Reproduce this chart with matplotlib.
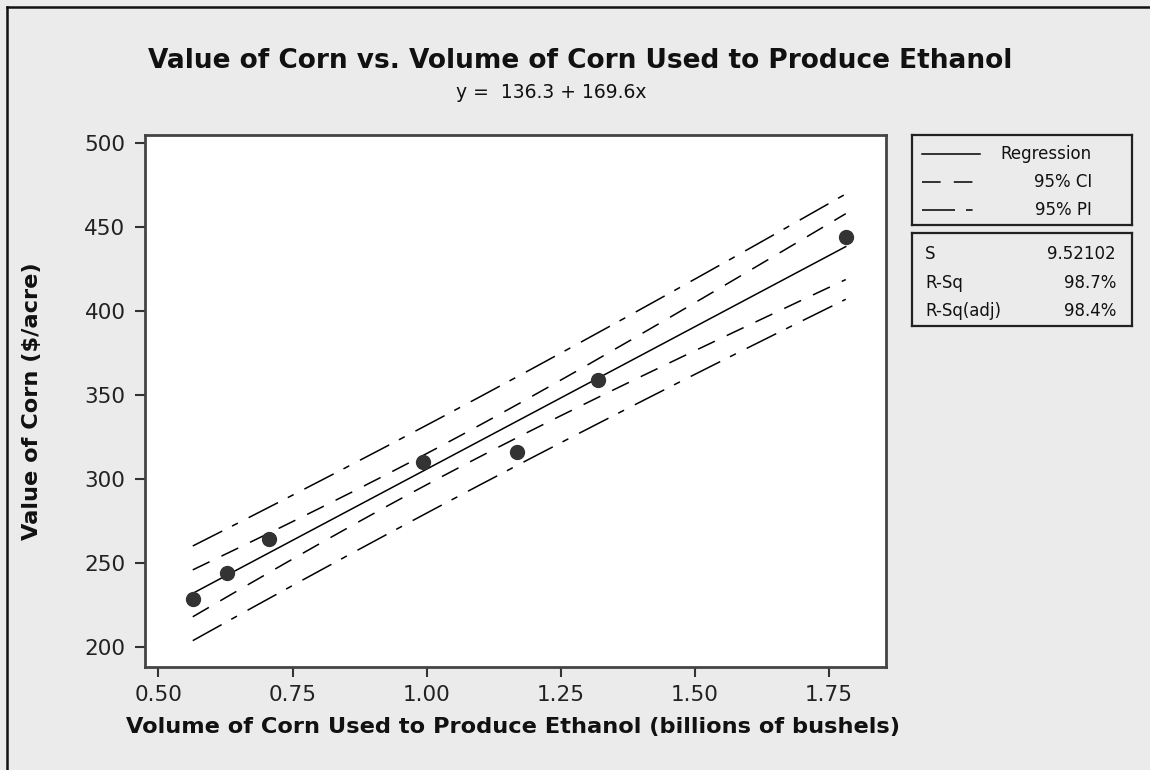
import matplotlib
matplotlib.use("Agg")
import matplotlib.pyplot as plt
from matplotlib.lines import Line2D
import numpy as np

# data
volume = [0.564, 0.627, 0.706, 0.993, 1.168, 1.320, 1.781]   # billions of bushels
value = [228.4, 243.9, 264.3, 310.3, 316.3, 359.0, 443.9]     # $/acre

# fit summary printed on the chart
b0, b1 = 136.3, 169.6
s_fit = 9.52102
r_sq = "98.7%"
r_sq_adj = "98.4%"
t_crit = 2.5706  # t(0.975, df=5)

xticks = [0.50, 0.75, 1.00, 1.25, 1.50, 1.75]
yticks = [200, 250, 300, 350, 400, 450, 500]

BG = "#ebebeb"
DARK = "#333333"
W, H = 1150, 770

plt.rcParams["font.family"] = "DejaVu Sans"

fig = plt.figure(figsize=(W / 100, H / 100), dpi=100, facecolor=BG)


def px_rect(x0, y0, x1, y1):
    # pixel box (top-left origin) -> figure fraction rect
    return [x0 / W, 1 - y1 / H, (x1 - x0) / W, (y1 - y0) / H]


ax = fig.add_axes(px_rect(145, 135, 886, 667))
ax.set_facecolor("white")

# regression line with confidence / prediction bands
x = np.array(volume)
n = len(x)
xbar = x.mean()
sxx = ((x - xbar) ** 2).sum()
xs = np.linspace(x.min(), x.max(), 200)
fit = b0 + b1 * xs
se_mean = s_fit * np.sqrt(1 / n + (xs - xbar) ** 2 / sxx)
se_pred = s_fit * np.sqrt(1 + 1 / n + (xs - xbar) ** 2 / sxx)

ci_dash = (12.2, 8.6)
pi_dash = (21.6, 7.2, 4.3, 7.9)
ax.plot(xs, fit, color="black", lw=1.1)
ax.plot(xs, fit + t_crit * se_mean, color="black", lw=1.1, dashes=ci_dash)
ax.plot(xs, fit - t_crit * se_mean, color="black", lw=1.1, dashes=ci_dash)
ax.plot(xs, fit + t_crit * se_pred, color="black", lw=1.1, dashes=pi_dash)
ax.plot(xs, fit - t_crit * se_pred, color="black", lw=1.1, dashes=pi_dash)

ax.plot(volume, value, "o", color=DARK, markersize=10, zorder=5)

ax.set_xlim(0.475, 1.856)
ax.set_ylim(188.1, 504.8)
ax.set_xticks(xticks)
ax.set_xticklabels([f"{t:.2f}" for t in xticks])
ax.set_yticks(yticks)
ax.tick_params(axis="both", direction="out", length=7, width=1.5, color=DARK,
               labelsize=15.5, labelcolor="#222222")
ax.tick_params(axis="x", pad=6)
ax.tick_params(axis="y", pad=7)
for sp in ax.spines.values():
    sp.set_linewidth(2)
    sp.set_color("#444444")

fig.text(513 / W, 1 - 727 / H, "Volume of Corn Used to Produce Ethanol (billions of bushels)",
         ha="center", va="center", fontsize=16.2, fontweight="bold", color="#111111")
fig.text(32 / W, 1 - 401 / H, "Value of Corn ($/acre)", rotation=90,
         ha="center", va="center", fontsize=16.2, fontweight="bold", color="#111111")

fig.text(580 / W, 1 - 61 / H, "Value of Corn vs. Volume of Corn Used to Produce Ethanol",
         ha="center", va="center", fontsize=19, fontweight="bold", color="#111111")
fig.text(551 / W, 1 - 92 / H, "y =  136.3 + 169.6x",
         ha="center", va="center", fontsize=13.5, color="#111111")

# legend box
lg = fig.add_axes(px_rect(912, 135, 1132, 225))
lg.set_facecolor(BG)
lg.set_xlim(912, 1132)
lg.set_ylim(225, 135)
lg.set_xticks([])
lg.set_yticks([])
rows = [("Regression", None, 154), ("95% CI", ci_dash, 182), ("95% PI", pi_dash, 210)]
for label, dash, yy in rows:
    ln = Line2D([922, 980], [yy, yy], color="black", lw=1.1)
    if dash is not None:
        ln.set_dashes(dash)
    lg.add_line(ln)
    lg.text(1092, yy, label, ha="right", va="center", fontsize=12, color="#111111")

# summary box
sb = fig.add_axes(px_rect(912, 233, 1132, 326))
sb.set_facecolor(BG)
sb.set_xlim(912, 1132)
sb.set_ylim(326, 233)
sb.set_xticks([])
sb.set_yticks([])
stats = [("S", f"{s_fit:.5f}", 254), ("R-Sq", r_sq, 283), ("R-Sq(adj)", r_sq_adj, 311)]
for name, val, yy in stats:
    sb.text(925, yy, name, ha="left", va="center", fontsize=12, color="#111111")
    sb.text(1116, yy, val, ha="right", va="center", fontsize=12, color="#111111")

for a in (lg, sb):
    for sp in a.spines.values():
        sp.set_linewidth(1.6)
        sp.set_color("#222222")

# outer frame, left and top edges only
fig.add_artist(Line2D([7 / W, 7 / W], [0, 1 - 7 / H], color="#111111", lw=1.8))
fig.add_artist(Line2D([7 / W, 1], [1 - 7 / H, 1 - 7 / H], color="#111111", lw=1.8))

fig.savefig("out.png", dpi=100, facecolor=BG)
